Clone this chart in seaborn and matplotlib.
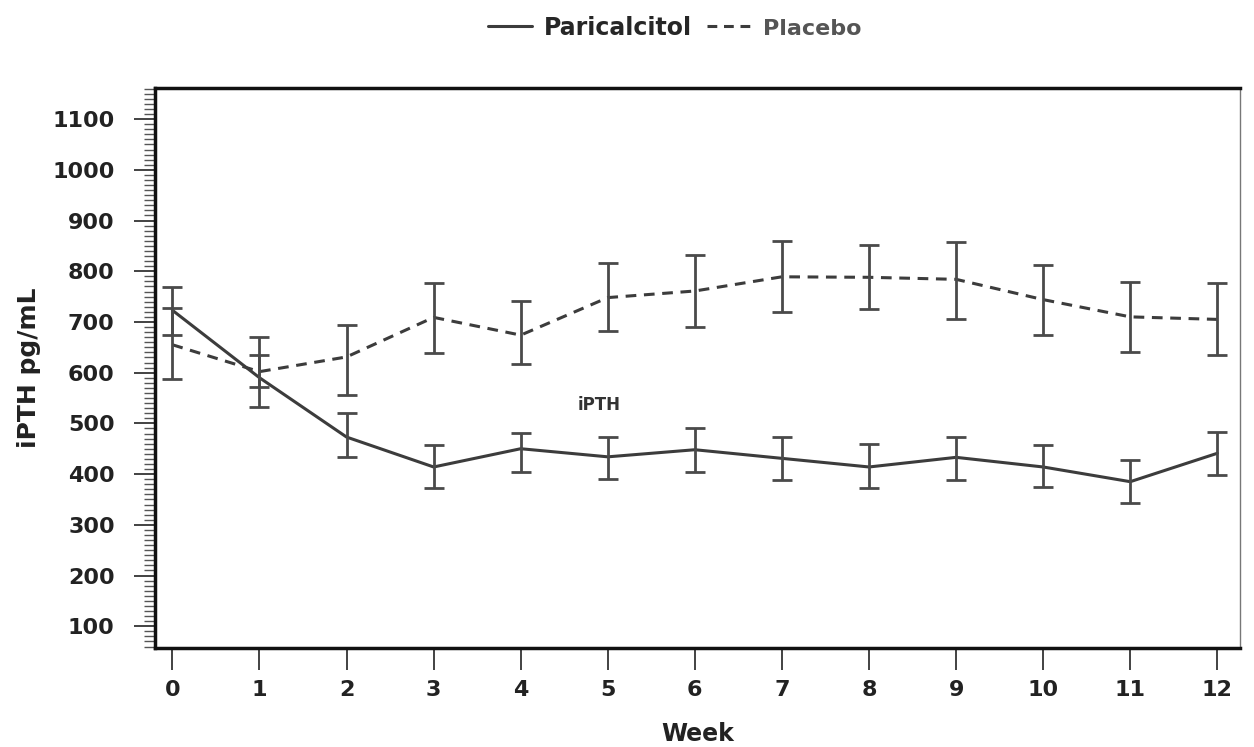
# iPTH per minggu: Paricalcitol vs Placebo
import numpy as np
import pandas as pd
import matplotlib
matplotlib.use("Agg")
import matplotlib.pyplot as plt
import seaborn as sns
from matplotlib.ticker import MultipleLocator

# data
weeks = [0, 1, 2, 3, 4, 5, 6, 7, 8, 9, 10, 11, 12]

paricalcitol = [723, 590, 473, 414, 450, 434, 448, 431, 414, 433, 414, 385, 441]
paricalcitol_low = [675, 533, 434, 372, 404, 391, 404, 388, 372, 389, 374, 342, 398]
paricalcitol_high = [768, 635, 520, 457, 481, 474, 490, 474, 459, 474, 457, 427, 483]

placebo = [655, 602, 631, 709, 674, 748, 761, 789, 788, 784, 744, 710, 705]
placebo_low = [587, 572, 556, 638, 618, 682, 690, 720, 725, 705, 674, 641, 635]
placebo_high = [727, 671, 694, 777, 742, 817, 832, 860, 851, 858, 812, 779, 776]

groups = ["Paricalcitol", "Placebo"]

df = pd.DataFrame({
    "Week": weeks * 2,
    "iPTH": paricalcitol + placebo,
    "Group": [groups[0]] * len(weeks) + [groups[1]] * len(weeks),
})

sns.set_style("ticks")
plt.rcParams["font.family"] = ["DejaVu Sans"]
plt.rcParams["font.weight"] = "bold"

fig = plt.figure(figsize=(12.54, 7.47), dpi=100)
ax = fig.add_axes([0.1236, 0.1325, 0.8652, 0.7495])

line_col = "#3c3c3c"
err_col = "#4a4a4a"

sns.lineplot(data=df, x="Week", y="iPTH", style="Group",
             dashes={"Paricalcitol": "", "Placebo": (3.5, 2.5)},
             color=line_col, linewidth=2.2, ax=ax, legend=False)

# error bar
for mean, low, high in [(paricalcitol, paricalcitol_low, paricalcitol_high),
                        (placebo, placebo_low, placebo_high)]:
    m = np.array(mean)
    yerr = [m - np.array(low), np.array(high) - m]
    ax.errorbar(weeks, m, yerr=yerr, fmt="none", ecolor=err_col,
                elinewidth=2.0, capsize=7, capthick=2.0)

ax.set_xlim(-0.2, 12.26)
ax.set_ylim(57, 1161)
ax.set_xticks(weeks)
ax.set_yticks(range(100, 1101, 100))
ax.yaxis.set_minor_locator(MultipleLocator(10))

ax.tick_params(axis="x", direction="out", length=16, width=1.2, pad=7,
               labelsize=16, colors="#222222")
ax.tick_params(axis="y", which="major", direction="out", length=15, width=1.2,
               pad=14, labelsize=16, colors="#222222")
ax.tick_params(axis="y", which="minor", direction="out", length=8, width=1.0,
               colors="#555555")
for lbl in ax.get_xticklabels() + ax.get_yticklabels():
    lbl.set_fontweight("bold")

for sp in ax.spines.values():
    sp.set_linewidth(2.5)
    sp.set_color("#111111")
ax.spines["right"].set_linewidth(1.0)
ax.spines["right"].set_color("#777777")

ax.set_xlabel("Week", fontsize=17, fontweight="bold", color="#222222", labelpad=16)
ax.set_ylabel("iPTH pg/mL", fontsize=18, fontweight="bold", color="#222222", labelpad=8)

ax.text(4.9, 536, "iPTH", fontsize=12, fontweight="bold", color="#333333",
        ha="center", va="center")

# legenda di atas
handles = [plt.Line2D([], [], color=line_col, lw=2.2, ls="-"),
           plt.Line2D([], [], color=line_col, lw=2.2, ls=(0, (3.2, 2.2)))]
leg = fig.legend(handles, groups, loc="center", bbox_to_anchor=(0.538, 0.963),
                 ncol=2, frameon=False, handlelength=1.9, handletextpad=0.5,
                 columnspacing=0.6, prop={"weight": "bold", "size": 17})
leg.get_texts()[1].set_fontsize(16)
leg.get_texts()[1].set_color("#555555")

fig.savefig("out.png", dpi=100, facecolor="white")
